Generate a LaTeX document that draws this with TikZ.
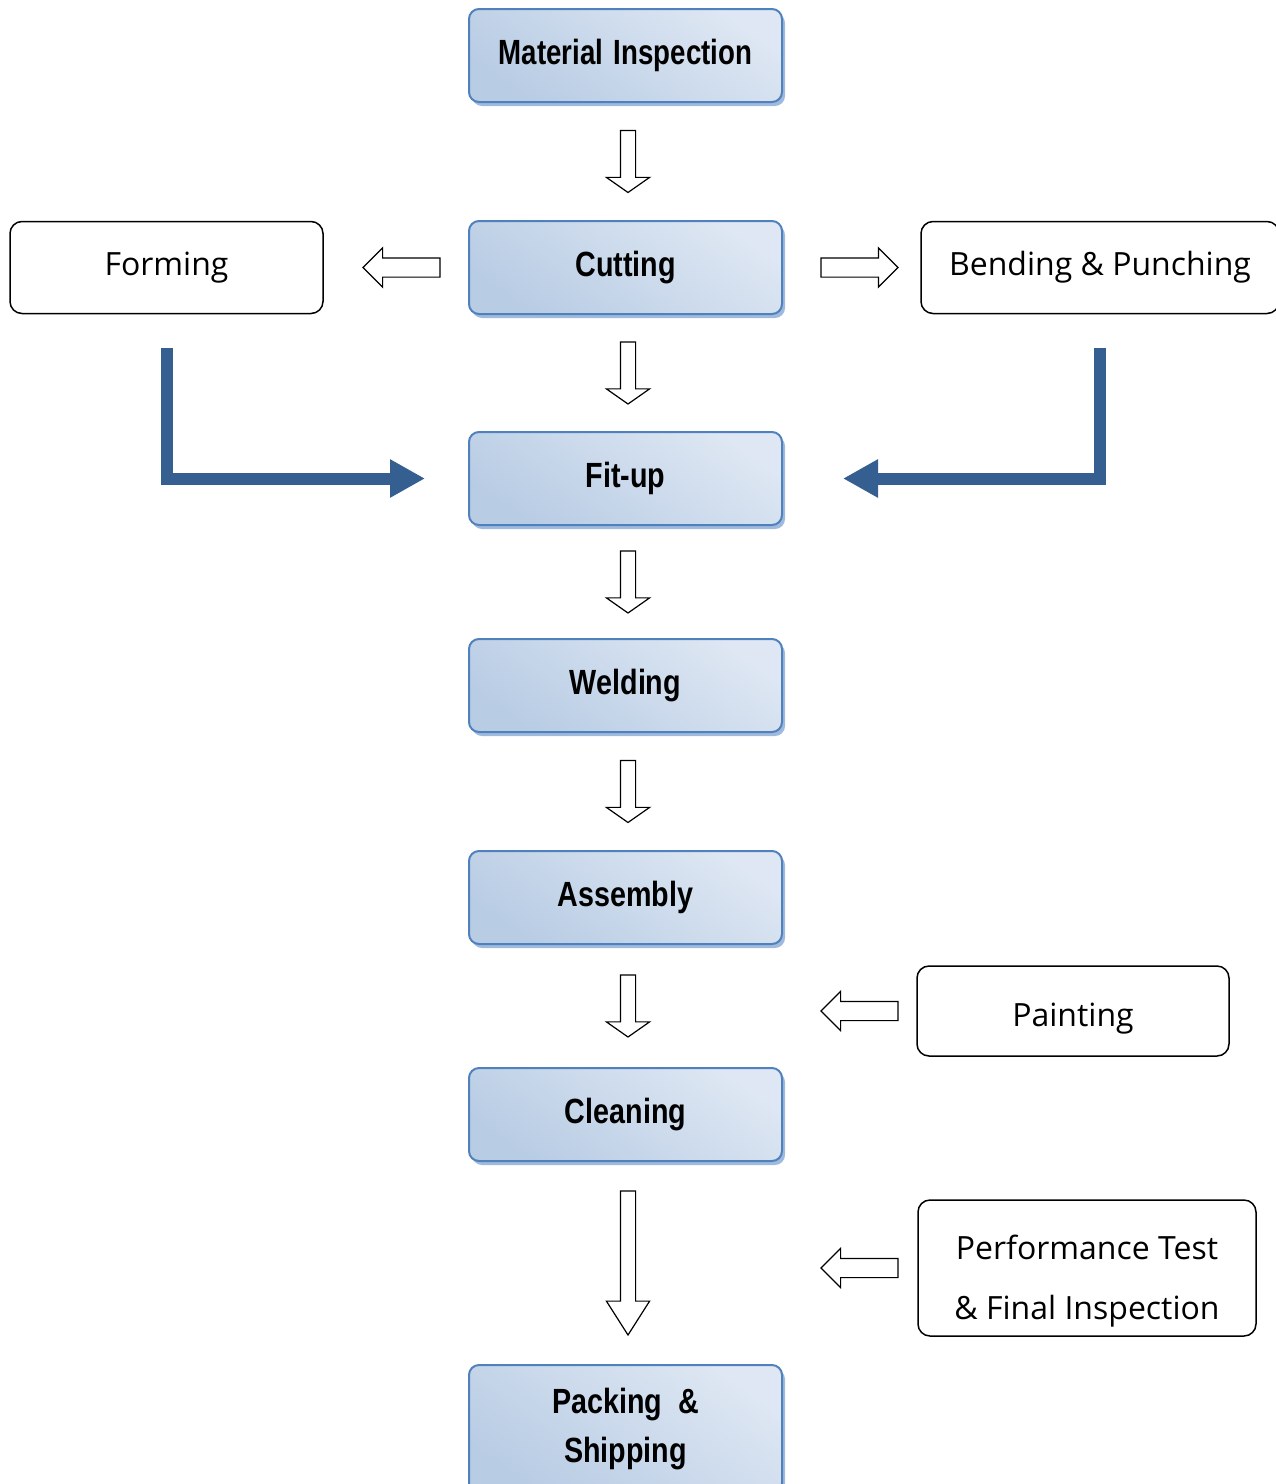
\documentclass[tikz,border=0pt]{standalone}
\usepackage{fontspec}
\setmainfont{Open Sans}
\newfontfamily\boxfont[FakeStretch=0.82]{Liberation Sans}
\usetikzlibrary{shapes.arrows,shadows,calc,positioning,arrows.meta}

\definecolor{boxedge}{RGB}{79,129,189}
\definecolor{boxdark}{RGB}{184,204,228}
\definecolor{boxlight}{RGB}{222,231,243}
\definecolor{shadowblue}{RGB}{160,186,222}
\definecolor{flowblue}{RGB}{54,95,145}

\begin{document}
\begin{tikzpicture}[x=1pt,y=-1pt,outer sep=0pt,
    procbox/.style={rectangle,rounded corners=10pt,draw=boxedge,line width=2pt,
      top color=boxlight,bottom color=boxdark,shading angle=-35,
      drop shadow={shadow xshift=3pt,shadow yshift=-4pt,fill=shadowblue,opacity=1},
      minimum width=313pt,minimum height=93pt,align=center,
      font=\boxfont\bfseries\fontsize{35}{49}\selectfont},
    sidebox/.style={rectangle,rounded corners=12pt,draw=black,line width=1.5pt,
      fill=white,minimum height=92pt,align=center,
      font=\fontsize{32}{60}\selectfont},
    downarrow/.style={single arrow,draw,line width=1.2pt,fill=white,
      inner xsep=0pt,inner ysep=7pt,minimum width=42pt,minimum height=62pt,
      single arrow head extend=14pt,single arrow tip angle=110,rotate=-90,anchor=tail},
    sidearrow/.style={single arrow,draw,line width=1.2pt,fill=white,
      inner xsep=0pt,inner ysep=9pt,minimum width=38pt,minimum height=77pt,
      single arrow head extend=10pt,single arrow tip angle=90},
    flow/.style={draw=flowblue,line width=12pt,line join=miter,
      -{Triangle[length=35pt,width=36pt]}}]

  \useasboundingbox (0,0) rectangle (1276,1484);

  % main line
  \node[procbox] (matinsp) at (625.5,55.5)
    {\addfontfeature{FakeStretch=0.79}Material\hspace{0.3em}Inspection};
  \node[procbox,below=119pt of matinsp] (cutting)  {Cutting};
  \node[procbox,below=118pt of cutting] (fitup)    {Fit-up};
  \node[procbox,below=114pt of fitup]   (welding)  {Welding};
  \node[procbox,below=119pt of welding] (assembly) {Assembly};
  \node[procbox,below=124pt of assembly] (cleaning) {Cleaning};
  \node[procbox,below=204pt of cleaning,minimum height=128pt] (packing)
    {Packing~~\&\\Shipping};

  % side jobs
  \node[sidebox,minimum width=313pt,left=146pt of cutting]  (forming) {Forming};
  \node[sidebox,minimum width=358pt,right=139pt of cutting] (bending) {Bending \& Punching};
  \node[sidebox,minimum width=312pt,minimum height=90pt] (painting) at (1073,1011)
    {\rule{0pt}{38pt}Painting};
  \node[sidebox,minimum width=338pt,minimum height=136pt] (perftest) at (1087,1268)
    {\rule{0pt}{50pt}Performance Test\\\& Final Inspection};

  % hollow arrows
  \node[downarrow] (d1) at ($(matinsp.south)!0.5!(cutting.north)+(2.5,-31)$) {};
  \node[downarrow] (d2) at ($(cutting.south)!0.5!(fitup.north)+(2.5,-31)$) {};
  \node[downarrow] (d3) at ($(fitup.south)!0.5!(welding.north)+(2.5,-31)$) {};
  \node[downarrow] (d4) at ($(welding.south)!0.5!(assembly.north)+(2.5,-31)$) {};
  \node[downarrow] (d5) at ($(assembly.south)!0.5!(cleaning.north)+(2.5,-31)$) {};
  \node[downarrow,minimum height=144pt,single arrow tip angle=65] (d6)
    at ($(cleaning.south)!0.5!(packing.north)+(2.5,-72)$) {};

  \node[sidearrow,shape border rotate=180,anchor=tail] (s1) at ([xshift=-29pt]cutting.west) {};
  \node[sidearrow,anchor=tip] (s2) at ([xshift=-23pt]bending.west) {};
  \node[sidearrow,shape border rotate=180,anchor=tail] (s3) at ([xshift=-19pt]painting.west) {};
  \node[sidearrow,shape border rotate=180,anchor=tail] (s4) at ([xshift=-20pt]perftest.west) {};

  % feeds into fit-up
  \draw[flow,shorten <=34pt,shorten >=44pt] (forming.south) |- (fitup.west);
  \draw[flow,shorten <=34pt,shorten >=61pt] (bending.south) |- (fitup.east);
\end{tikzpicture}
\end{document}
